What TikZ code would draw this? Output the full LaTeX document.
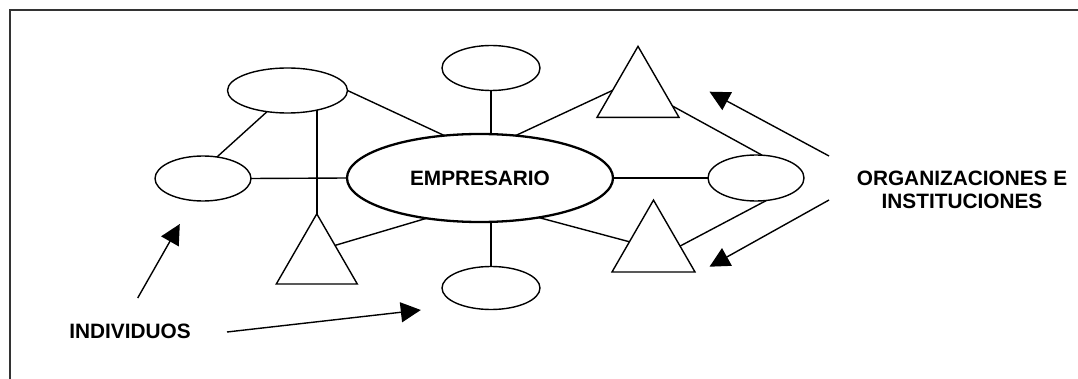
\documentclass[tikz,border=0pt]{standalone}
\usepackage{fontspec}
\setmainfont{Liberation Sans}
\usetikzlibrary{shapes.geometric,arrows.meta,calc}
\begin{document}
\begin{tikzpicture}[x=1pt,y=-1pt,
  line width=1.4pt,
  ell/.style={draw,ellipse,inner sep=0pt,outer sep=0pt},
  tri/.style={draw,regular polygon,regular polygon sides=3,inner sep=0pt,outer sep=0pt,minimum size=#1},
  link/.style={line width=1.4pt},
  frameline/.style={line width=2pt,draw=black!80},
  lbl/.style={font=\bfseries\fontsize{20.8}{23}\selectfont,align=center,inner sep=0pt},
  pointer/.style={line width=1.4pt,-{Triangle[length=20pt,width=20pt]}}
]
\useasboundingbox (0,0) rectangle (1078,379);
% frame
\coordinate (fa) at (10,381);
\coordinate (fb) at (10,10);
\coordinate (fc) at (1080,10);
\draw[frameline] (fa) -- (fb) -- (fc);

% nodes
\node[ell,line width=2.3pt,minimum width=266pt,minimum height=88pt,lbl] (M) at (480,178) {EMPRESARIO};
\node[ell,minimum width=98pt,minimum height=45pt] (T) at (491,68) {};
\node[ell,minimum width=98pt,minimum height=43pt] (B) at (491,288) {};
\node[ell,minimum width=120pt,minimum height=45pt] (UL) at (287.5,90.5) {};
\node[ell,minimum width=96pt,minimum height=45pt] (L) at (203,178.5) {};
\node[ell,minimum width=96pt,minimum height=46pt] (R) at (756,178) {};
\node[tri=93.5pt] (T1) at (316.8,260.6) {};
\node[tri=94.7pt] (T2) at (638,93.7) {};
\node[tri=95.8pt] (T3) at (653.5,248) {};

% connectors
\draw[link] (UL.226) -- (L.57);
\draw[link] (UL.east) -- (M.130);
\draw[link] (L.east) -- (M.west);
\draw[link] (T1.corner 1) -- (T1.corner 1 |- UL.-35);
\draw[link] (M.217) -- ($(T1.corner 1)!0.45!(T1.corner 3)$);
\draw[link] (T.south) -- (T.south |- M.north);
\draw[link] (B.north |- M.south) -- (B.north);
\draw[link] (M.50) -- ($(T2.corner 1)!0.62!(T2.corner 2)$);
\draw[link] ($(T2.corner 1)!0.84!(T2.corner 3)$) -- (R.75);
\draw[link] (M.east) -- (R.west);
\draw[link] (M.-34) -- ($(T3.corner 1)!0.58!(T3.corner 2)$);
\draw[link] ($(T3.corner 1)!0.64!(T3.corner 3)$) -- (R.-65);

% labels
\node[lbl] (org) at (962,189.5) {ORGANIZACIONES E\\INSTITUCIONES};
\node[lbl] (ind) at (130,331) {INDIVIDUOS};

% arrows
\coordinate (a1s) at (829,156);
\coordinate (a1t) at (709.5,91.7);
\coordinate (a2s) at (829,200);
\coordinate (a2t) at (709.5,266.7);
\coordinate (a3s) at (137.7,298);
\coordinate (a3t) at (179.8,224);
\coordinate (a4s) at (227,332);
\coordinate (a4t) at (420.8,310);
\draw[pointer] (a1s) -- (a1t);
\draw[pointer] (a2s) -- (a2t);
\draw[pointer] (a3s) -- (a3t);
\draw[pointer] (a4s) -- (a4t);
\end{tikzpicture}
\end{document}
